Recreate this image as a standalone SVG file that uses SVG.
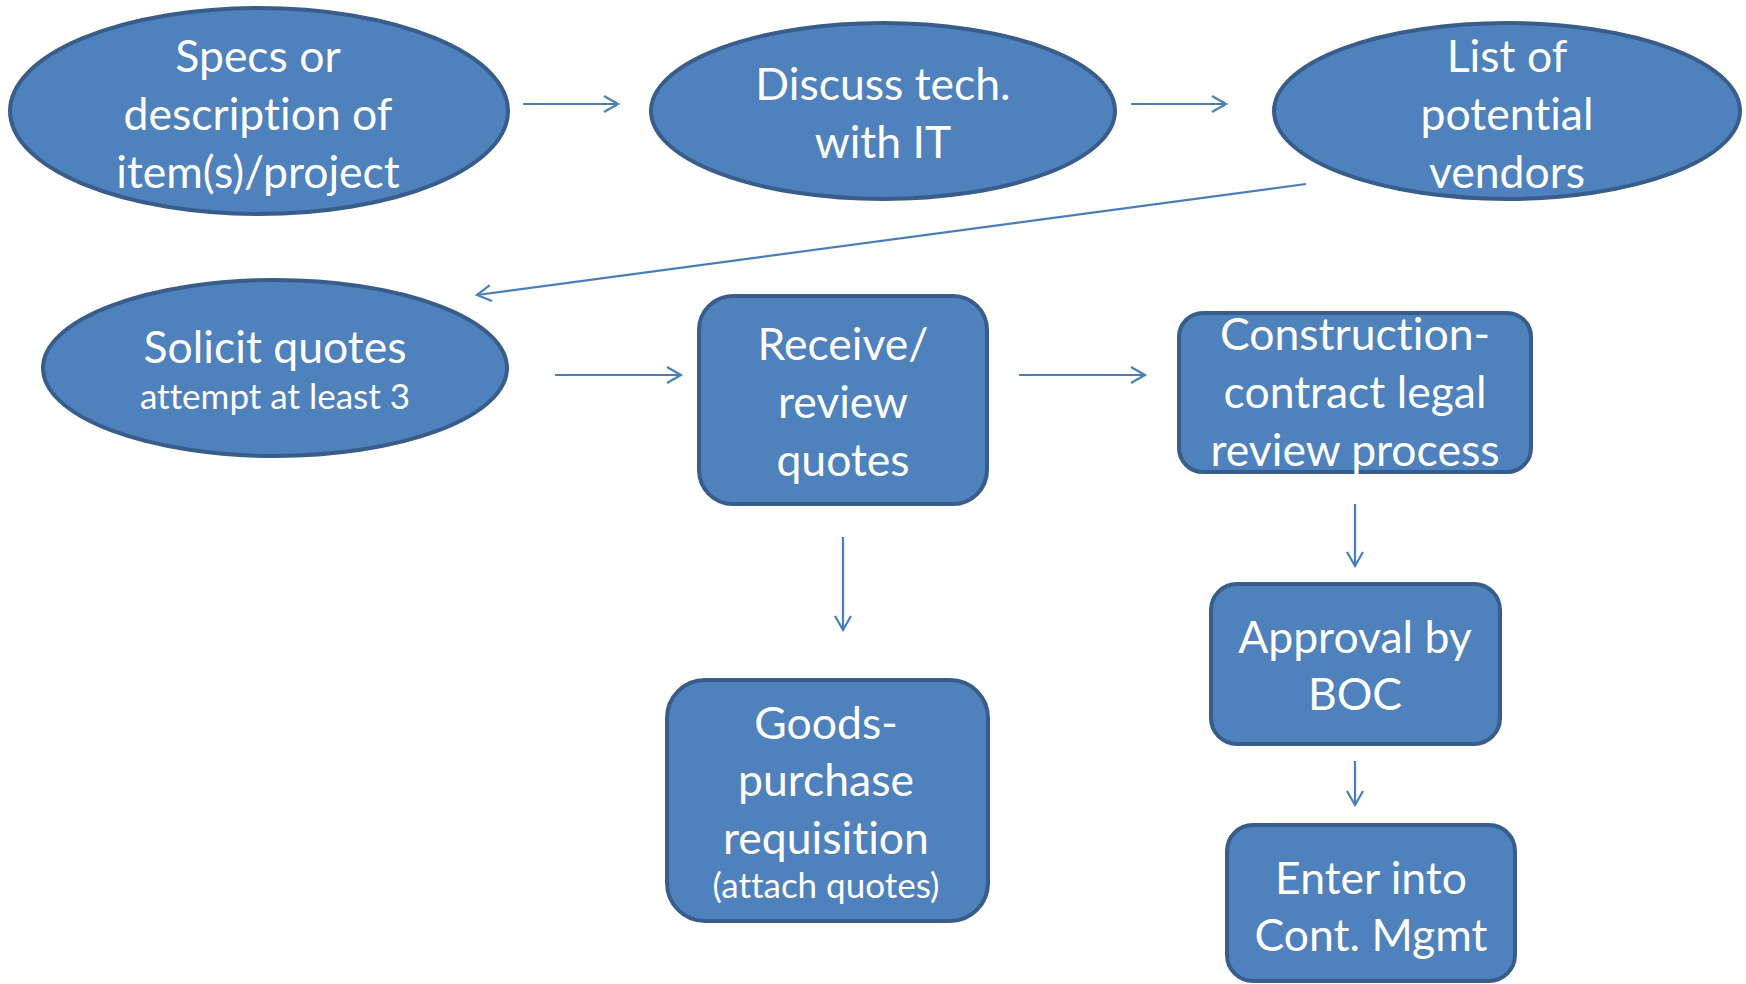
<svg xmlns="http://www.w3.org/2000/svg" width="1746" height="984" viewBox="0 0 1746 984">
<defs>
<style>
.n{fill:#4F81BD;stroke:#385D8A;stroke-width:4}
.t{font-family:Lato,"Liberation Sans",sans-serif;font-size:44.5px;fill:#fff;text-anchor:middle;font-variant-ligatures:none;font-feature-settings:"liga" 0,"dlig" 0}
.s{font-size:35px}
.c{stroke:#4A7EBB;stroke-width:2.2;fill:none}
</style>
<marker id="a" markerWidth="20" markerHeight="20" refX="17" refY="10" orient="auto" markerUnits="userSpaceOnUse">
<path d="M3,2 L17,10 L3,18" fill="none" stroke="#4A7EBB" stroke-width="2.2"/>
</marker>
</defs>
<rect width="1746" height="984" fill="#fff"/>
<g id="connectors">
<line class="c" x1="523" y1="104" x2="618" y2="104" marker-end="url(#a)"/>
<line class="c" x1="1131" y1="104" x2="1226" y2="104" marker-end="url(#a)"/>
<line class="c" x1="1306" y1="184" x2="477" y2="295" marker-end="url(#a)"/>
<line class="c" x1="555" y1="375" x2="681" y2="375" marker-end="url(#a)"/>
<line class="c" x1="1019" y1="375" x2="1145" y2="375" marker-end="url(#a)"/>
<line class="c" x1="843" y1="537" x2="843" y2="630" marker-end="url(#a)"/>
<line class="c" x1="1355" y1="504" x2="1355" y2="566" marker-end="url(#a)"/>
<line class="c" x1="1355" y1="761" x2="1355" y2="805" marker-end="url(#a)"/>
</g>
<g id="n1">
<ellipse class="n" cx="259" cy="111" rx="249" ry="103"/>
<text class="t"><tspan x="258" y="72">Specs or</tspan><tspan x="258" y="130">description of</tspan><tspan x="258" y="188">item(s)/project</tspan></text>
</g>
<g id="n2">
<ellipse class="n" cx="883" cy="111" rx="232" ry="88"/>
<text class="t"><tspan x="883" y="100">Discuss tech.</tspan><tspan x="883" y="158">with IT</tspan></text>
</g>
<g id="n3">
<ellipse class="n" cx="1507" cy="111" rx="233" ry="88"/>
<text class="t"><tspan x="1507" y="72">List of</tspan><tspan x="1507" y="130">potential</tspan><tspan x="1507" y="188">vendors</tspan></text>
</g>
<g id="n4">
<ellipse class="n" cx="275" cy="368" rx="232" ry="88"/>
<text class="t"><tspan x="275" y="363">Solicit quotes</tspan><tspan class="s" x="275" y="409">attempt at least 3</tspan></text>
</g>
<g id="n5">
<rect class="n" x="699" y="296" width="288" height="208" rx="34"/>
<text class="t"><tspan x="843" y="360">Receive/</tspan><tspan x="843" y="418">review</tspan><tspan x="843" y="476">quotes</tspan></text>
</g>
<g id="n6">
<rect class="n" x="1179" y="313" width="352" height="159" rx="24"/>
<text class="t"><tspan x="1355" y="350">Construction-</tspan><tspan x="1355" y="408">contract legal</tspan><tspan x="1355" y="466">review process</tspan></text>
</g>
<g id="n7">
<rect class="n" x="667" y="680" width="321" height="241" rx="38"/>
<text class="t"><tspan x="826" y="739">Goods-</tspan><tspan x="826" y="796">purchase</tspan><tspan x="826" y="854">requisition</tspan><tspan class="s" x="826" y="898">(attach quotes)</tspan></text>
</g>
<g id="n8">
<rect class="n" x="1211" y="584" width="289" height="160" rx="26"/>
<text class="t"><tspan x="1355" y="653">Approval by</tspan><tspan x="1355" y="710">BOC</tspan></text>
</g>
<g id="n9">
<rect class="n" x="1227" y="825" width="288" height="156" rx="26"/>
<text class="t"><tspan x="1371" y="894">Enter into</tspan><tspan x="1371" y="951">Cont. Mgmt</tspan></text>
</g>
</svg>
